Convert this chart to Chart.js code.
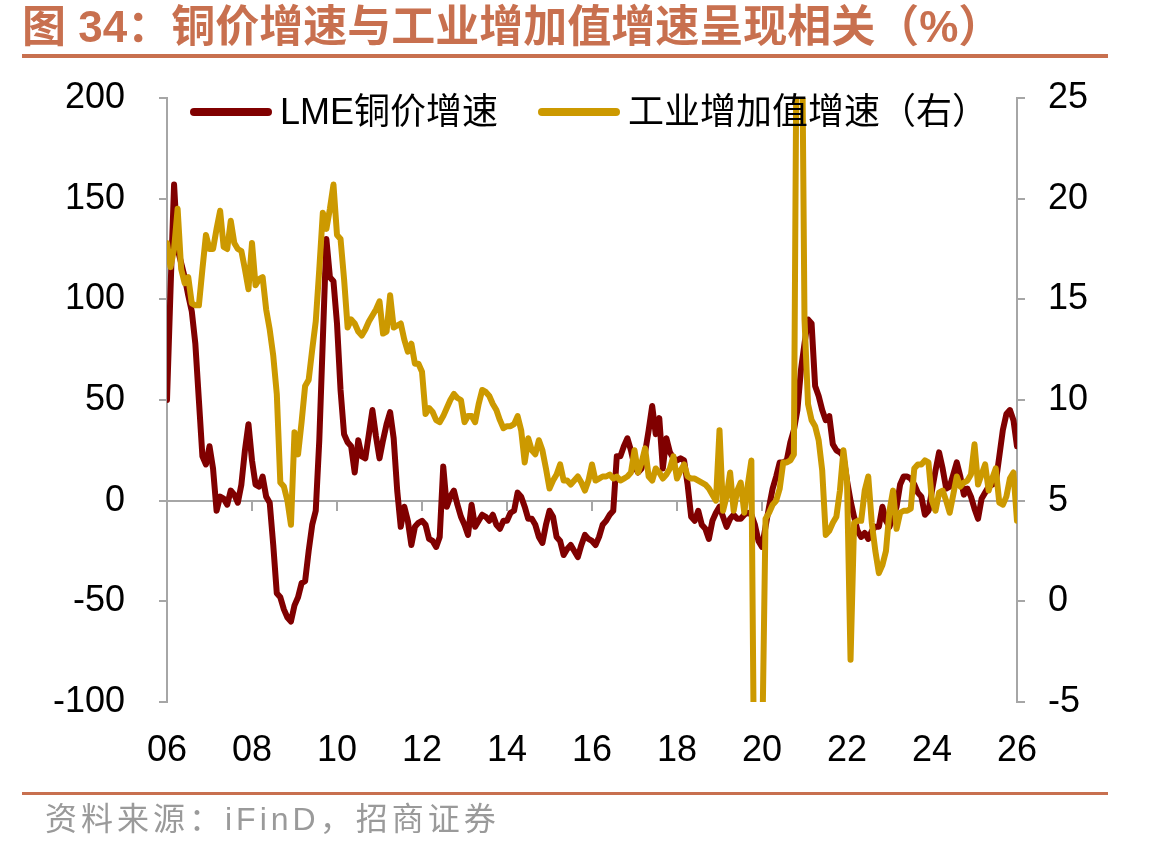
<!DOCTYPE html>
<html>
<head>
<meta charset="utf-8">
<script src="https://cdn.jsdelivr.net/npm/chart.js@4.4.1/dist/chart.umd.min.js"></script>
<style>
html,body{margin:0;padding:0;background:#fff;}
#wrap{position:relative;width:1154px;height:853px;overflow:hidden;background:#fff;}
#c{position:absolute;left:0;top:0;}
.title{position:absolute;left:22px;top:5px;font-weight:bold;font-size:44px;line-height:44px;font-family:"Liberation Sans","Noto Sans CJK SC",sans-serif;color:#C8704F;white-space:nowrap;}
.rule{position:absolute;left:22px;width:1086px;background:#C8704F;}
.lg-line{position:absolute;height:8px;width:82px;border-radius:4px;}
.lg-text{position:absolute;font-size:36px;line-height:36px;font-family:"Liberation Sans","Noto Sans CJK SC",sans-serif;color:#000;white-space:nowrap;}
.src{position:absolute;left:45px;top:803px;font-size:32px;line-height:32px;letter-spacing:4px;font-family:"Liberation Sans","Noto Sans CJK SC",sans-serif;color:#9A9A9A;white-space:nowrap;}
</style>
</head>
<body>
<div id="wrap">
  <canvas id="c" width="1154" height="853"></canvas>
  <div class="title">图 34：铜价增速与工业增加值增速呈现相关（%）</div>
  <div class="rule" style="top:54px;height:4px;"></div>
  <div class="lg-line" style="left:190px;top:108px;background:#800000;"></div>
  <div class="lg-text" style="left:280px;top:94px;">LME铜价增速</div>
  <div class="lg-line" style="left:538px;top:108px;background:#CC9900;"></div>
  <div class="lg-text" style="left:628px;top:94px;">工业增加值增速（右）</div>
  <div class="rule" style="top:792px;height:3px;"></div>
  <div class="src">资料来源：iFinD，招商证券</div>
</div>
<script>
// x-axis tick labels (every 2 years, monthly data starting Jan 2006)
const yearTicks = ['06','08','10','12','14','16','18','20','22','24','26'];
const leftTicks = [-100, -50, 0, 50, 100, 150, 200];
const rightTicks = [-5, 0, 5, 10, 15, 20, 25];

// LME copper price YoY (%), left axis, monthly 2006-01 .. 2026-01
const copperYoY = [
  50,105,157,125,118,111,102,94,78,50,22,18,
  27,16,-5,2,1,-2,5,3,-1,8,25,38,
  20,8,7,12,2,-1,-22,-46,-48,-54,-58,-60,
  -52,-48,-41,-40,-25,-12,-5,30,80,130,111,109,
  88,55,33,29,27,14,30,22,21,33,45,32,
  21,30,38,44,31,5,-13,-3,-10,-22,-13,-11,
  -10,-12,-19,-20,-23,-18,17,-3,2,5,-2,-8,
  -12,-17,-2,-13,-10,-7,-8,-10,-7,-12,-14,-10,
  -10,-6,-5,4,2,-3,-9,-9,-12,-18,-21,-12,
  -5,-8,-18,-20,-27,-24,-22,-25,-28,-22,-17,-19,
  -20,-22,-18,-12,-10,-7,-5,22,22,27,31,25,
  17,14,16,24,35,47,33,41,16,31,24,21,
  20,21,20,8,-8,-10,-5,-12,-14,-19,-10,-6,
  -3,-8,-13,-9,-7,-9,-9,-7,-6,-7,-12,-20,
  -23,-13,-3,6,12,19,19,20,29,35,45,65,
  78,90,88,57,52,45,40,42,28,25,24,22,
  10,0,-8,-15,-18,-16,-19,-15,-13,-13,-3,-10,
  -13,-8,-3,8,12,12,11,8,4,2,-7,-5,
  5,15,24,16,6,7,13,19,12,3,6,2,
  -4,-9,1,4,7,8,9,22,35,43,45,40,
  27
];

// Industrial value added YoY (%), right axis, monthly 2006-01 .. 2026-01
const iavYoY = [
  17.8,16.6,17.5,19.5,16.5,15.8,16.1,14.8,14.7,14.7,16.5,18.2,
  17.5,17.5,18.5,19.4,17.6,17.5,18.9,17.8,17.5,17.4,16.5,15.5,
  17.8,15.7,16.0,16.1,14.5,13.5,12.2,10.3,5.9,5.7,5.0,3.8,
  8.4,7.3,8.9,10.7,11.0,12.5,13.9,16.5,19.3,18.5,19.5,20.7,
  18.2,18.0,16.0,13.6,14.0,13.8,13.4,13.2,13.5,13.9,14.2,14.5,
  14.9,13.3,13.4,15.2,13.6,13.7,13.8,13.0,12.4,12.8,11.8,11.8,
  11.4,9.3,9.6,9.4,9.0,8.9,9.2,9.6,10.0,10.3,10.1,10.0,
  8.9,9.2,9.2,8.9,9.8,10.5,10.4,10.2,9.8,9.5,9.0,8.6,
  8.7,8.7,8.8,9.2,8.5,6.9,8.1,7.5,7.3,8.0,7.5,6.6,
  5.6,6.0,6.3,6.8,6.0,6.0,5.8,6.0,6.2,5.9,5.5,6.0,
  6.8,6.0,6.1,6.2,6.2,6.3,6.1,6.2,6.0,6.1,6.2,6.4,
  7.5,6.4,6.9,7.6,6.2,6.0,6.6,6.4,6.1,6.3,6.6,7.2,
  6.1,6.5,6.8,6.2,6.1,6.1,6.0,5.9,5.8,5.6,5.3,5.0,
  8.5,4.5,5.2,6.4,4.5,5.5,5.9,4.4,5.8,7.0,-13.5,-13.5,
  -8.0,4.1,4.4,4.8,5.0,5.6,6.9,6.9,7.0,7.3,35.0,35.0,
  14.0,9.8,9.0,8.7,8.0,6.5,3.3,3.5,3.9,4.2,5.5,7.5,
  6.0,-2.9,3.9,4.0,4.0,5.5,6.2,3.9,2.5,1.4,1.8,2.5,
  4.5,5.5,3.6,4.4,4.5,4.5,4.6,6.6,6.8,6.8,7.0,6.9,
  5.0,4.5,5.4,5.5,5.0,4.4,5.3,6.2,5.7,5.9,6.0,6.3,
  7.8,5.8,6.3,6.8,5.5,6.1,6.6,4.9,4.8,5.2,6.1,6.4,
  4.0
];

const RED = '#800000';
const GOLD = '#CC9900';
const AXIS = '#A6A6A6';
const FONT = 'Liberation Sans';

const zeroAxis = {
  id: 'zeroAxis',
  beforeDatasetsDraw(chart) {
    const {ctx, chartArea: a, scales: {x, y}} = chart;
    const y0 = Math.round(y.getPixelForValue(0));
    ctx.save();
    ctx.strokeStyle = AXIS;
    ctx.lineWidth = 2;
    ctx.beginPath();
    ctx.moveTo(a.left, y0);
    ctx.lineTo(a.right, y0);
    x.ticks.forEach(t => {
      const px = Math.round(x.getPixelForValue(t.value));
      ctx.moveTo(px, y0);
      ctx.lineTo(px, y0 + 10);
    });
    ctx.stroke();
    ctx.restore();
  }
};

const axisY = (pos, min, max, ticks, width, pad) => ({
  type: 'linear', position: pos, min, max,
  afterBuildTicks: s => { s.ticks = ticks.map(v => ({value: v})); },
  afterFit: s => { s.width = width; },
  ticks: {font: {family: FONT, size: 36}, color: '#000', padding: pad},
  grid: {drawOnChartArea: false, drawTicks: true, tickLength: 8, color: AXIS, lineWidth: 2},
  border: {display: true, color: AXIS, width: 2}
});

new Chart(document.getElementById('c'), {
  type: 'line',
  data: {
    datasets: [
      {
        label: 'LME铜价增速',
        data: copperYoY.map((v, i) => ({x: i, y: v})),
        yAxisID: 'y', borderColor: RED, backgroundColor: RED,
        borderWidth: 6, pointRadius: 0, tension: 0, order: 2,
        borderJoinStyle: 'round', borderCapStyle: 'round'
      },
      {
        label: '工业增加值增速（右）',
        data: iavYoY.map((v, i) => ({x: i, y: v})),
        yAxisID: 'y2', borderColor: GOLD, backgroundColor: GOLD,
        borderWidth: 6, pointRadius: 0, tension: 0, order: 1,
        borderJoinStyle: 'round', borderCapStyle: 'round'
      }
    ]
  },
  options: {
    responsive: false,
    animation: false,
    devicePixelRatio: 1,
    layout: {padding: {top: 98, bottom: 61, left: 0, right: 0}},
    plugins: {legend: {display: false}, tooltip: {enabled: false}},
    scales: {
      x: {
        type: 'linear', min: 0, max: (yearTicks.length - 1) * 24,
        afterBuildTicks: s => { s.ticks = yearTicks.map((t, i) => ({value: i * 24})); },
        afterFit: s => { s.height = 90; },
        ticks: {
          callback: (v, i) => yearTicks[i],
          font: {family: FONT, size: 36}, color: '#000',
          padding: 19, maxRotation: 0, autoSkip: false
        },
        grid: {display: false},
        border: {display: false}
      },
      y: axisY('left', -100, 200, leftTicks, 167, 34),
      y2: axisY('right', -5, 25, rightTicks, 137, 23)
    }
  },
  plugins: [zeroAxis]
});
</script>
</body>
</html>
